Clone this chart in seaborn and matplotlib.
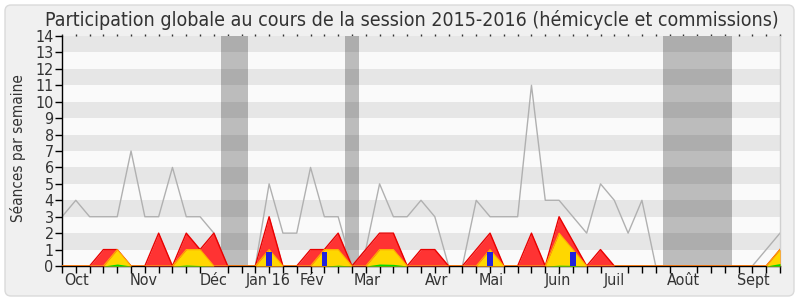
import numpy as np
import pandas as pd
import seaborn as sns
import matplotlib
matplotlib.use("Agg")
import matplotlib.pyplot as plt
from matplotlib.patches import FancyBboxPatch

# ---- data (one value per week of the 2015-2016 session) ----
weeks = list(range(53))
seances = [3, 4, 3, 3, 3, 7, 3, 3, 6, 3, 3, 2, 0, 0, 0, 5, 2, 2, 6, 3, 3, 0, 1, 5, 3, 3, 4, 3, 0, 0,
           4, 3, 3, 3, 11, 4, 4, 3, 2, 5, 4, 2, 4, 0, 0, 0, 0, 0, 0, 0, 0, 1, 2]
presences = [0, 0, 0, 1, 1, 0, 0, 2, 0, 2, 1, 2, 0, 0, 0, 3, 0, 0, 1, 1, 2, 0, 1, 2, 2, 0, 1, 1, 0, 0,
             1, 2, 0, 0, 2, 0, 3, 1.5, 0, 1, 0, 0, 0, 0, 0, 0, 0, 0, 0, 0, 0, 0, 1]
hemicycle = [0, 0, 0, 0, 1, 0, 0, 0, 0, 1, 1, 0, 0, 0, 0, 1, 0, 0, 0, 1, 1, 0, 0, 1, 1, 0, 0, 0, 0, 0,
             0, 1, 0, 0, 0, 0, 2, 1, 0, 0, 0, 0, 0, 0, 0, 0, 0, 0, 0, 0, 0, 0, 1]
interventions = [0, 0, 0, 0, 0.12, 0, 0, 0, 0, 0.06, 0.03, 0, 0, 0, 0, 0, 0, 0, 0, 0, 0.05, 0, 0, 0.12, 0.1, 0, 0, 0, 0, 0,
                 0, 0, 0, 0, 0, 0, 0.05, 0.04, 0, 0, 0, 0, 0, 0, 0, 0, 0, 0, 0, 0, 0, 0, 0.15]
questions = [0] * 53
for w in (15, 19, 31, 37):
    questions[w] = 0.88
vacances = [(12, 13), (21, 21), (44, 48)]
month_labels = ["Oct", "Nov", "Déc", "Jan 16", "Fév", "Mar", "Avr", "Mai", "Juin", "Juil", "Août", "Sept"]
month_pos = [1.05, 5.9, 11, 14.9, 18.1, 22.1, 27.1, 31.1, 35.9, 40, 45, 50.1]
title = "Participation globale au cours de la session 2015-2016 (hémicycle et commissions)"

df = pd.DataFrame({"semaine": weeks, "seances": seances, "presences": presences,
                   "hemicycle": hemicycle, "interventions": interventions, "questions": questions})

plt.rcParams["font.family"] = ["DejaVu Sans"]
txt = "#333333"

fig = plt.figure(figsize=(8, 3), dpi=100)
fig.patch.set_facecolor("white")
bg = FancyBboxPatch((5, 4), 789, 291, boxstyle="round,pad=0,rounding_size=6",
                    transform=None, facecolor="#f0f0f0", edgecolor="#dadada", linewidth=1, zorder=-10)
fig.add_artist(bg)

ax = fig.add_axes([62 / 800, 34 / 300, 718 / 800, 230 / 300])
ax.set_facecolor("#fafafa")

# stripes
for k in range(1, 14, 2):
    ax.axhspan(k, k + 1, color="black", alpha=0.08, linewidth=0, zorder=0.6)
# vacations
for a, b in vacances:
    ax.axvspan(a - 0.5, b + 0.5, color="#bcbcbc", linewidth=0, zorder=0.5)

sns.lineplot(data=df, x="semaine", y="seances", color="#b0b0b0", linewidth=1, ax=ax, zorder=2)
ax.fill_between(df["semaine"], df["presences"], color="#ff3333", linewidth=0, zorder=3)
sns.lineplot(data=df, x="semaine", y="presences", color="#e80000", linewidth=1, ax=ax, zorder=3.1)
ax.fill_between(df["semaine"], df["hemicycle"], color="#ffd700", linewidth=0, zorder=4)
sns.lineplot(data=df, x="semaine", y="hemicycle", color="#ffb000", linewidth=0.8, ax=ax, zorder=4.1)
ax.fill_between(df["semaine"], df["interventions"], color="#00dd00", linewidth=0, zorder=5)
sns.barplot(data=df, x="semaine", y="questions", native_scale=True, width=0.38,
            color="#2222dd", saturation=1, linewidth=0, ax=ax, zorder=6)

ax.set_xlim(0, 52)
ax.set_ylim(0, 14)
ax.set_xlabel("")
ax.set_ylabel("")

cond = dict(fontstretch="condensed", color=txt)
ax.set_yticks(range(15))
ax.set_yticklabels([str(i) for i in range(15)], fontsize=11.5, **cond)
ax.tick_params(axis="y", length=5, width=1, color="black", pad=1, direction="out")

ax.set_xticks(month_pos)
ax.set_xticklabels(month_labels, fontsize=11.5, **cond)
ax.set_xticks(weeks, minor=True)
ax.tick_params(axis="x", which="major", length=0, pad=5)
ax.tick_params(axis="x", which="minor", length=5, width=1, color="black", direction="out")

sec = ax.secondary_xaxis("top")
sec.set_xticks(weeks)
sec.tick_params(length=1.5, width=1, color="#333333", labeltop=False, direction="out")
sec.spines["top"].set_visible(False)

for s in ("left", "bottom"):
    ax.spines[s].set_color("black")
    ax.spines[s].set_linewidth(1)
ax.spines["top"].set_visible(False)
ax.spines["right"].set_color("#d0d0d0")
ax.spines["right"].set_linewidth(1)
ax.grid(False)

fig.text(412 / 800, 1 - 20 / 300, title, ha="center", va="center", fontsize=14, **cond)
fig.text(18 / 800, 152 / 300, "Séances par semaine", rotation=90, ha="center", va="center",
         fontsize=11, **cond)

fig.savefig("out.png", dpi=100, facecolor=fig.get_facecolor())
